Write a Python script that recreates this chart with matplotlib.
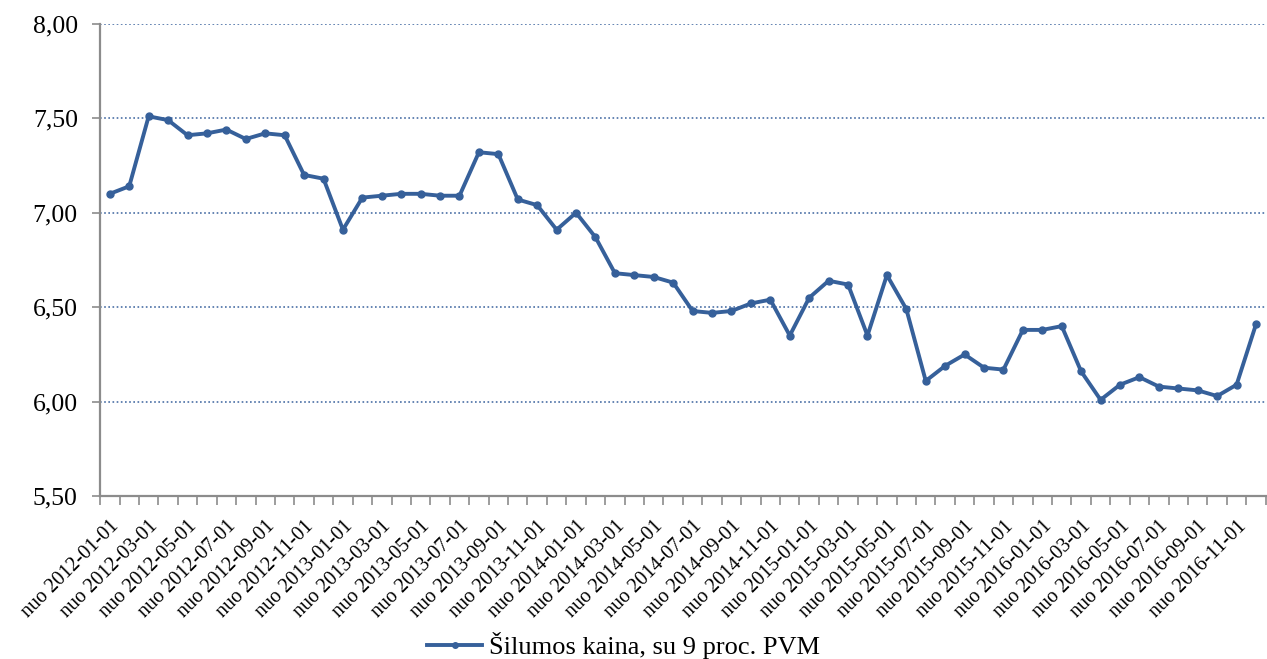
import matplotlib
matplotlib.use("Agg")
import matplotlib.pyplot as plt
import numpy as np

plt.rcParams["font.family"] = ["Liberation Serif", "DejaVu Serif"]

YEARS = [2012, 2013, 2014, 2015, 2016]
MONTHS = [f"{m:02d}" for m in range(1, 13)]
DATES = [f"{y}-{m}-01" for y in YEARS for m in MONTHS]

PRICES = [
    7.10, 7.14, 7.51, 7.49, 7.41, 7.42, 7.44, 7.39, 7.42, 7.41, 7.20, 7.18,
    6.91, 7.08, 7.09, 7.10, 7.10, 7.09, 7.09, 7.32, 7.31, 7.07, 7.04, 6.91,
    7.00, 6.87, 6.68, 6.67, 6.66, 6.63, 6.48, 6.47, 6.48, 6.52, 6.54, 6.35,
    6.55, 6.64, 6.62, 6.35, 6.67, 6.49, 6.11, 6.19, 6.25, 6.18, 6.17, 6.38,
    6.38, 6.40, 6.16, 6.01, 6.09, 6.13, 6.08, 6.07, 6.06, 6.03, 6.09, 6.41,
]
SERIES_NAME = "Šilumos kaina, su 9 proc. PVM"

LINE_COLOR = "#36609A"
GRID_COLOR = "#4A6FA5"
AXIS_COLOR = "#8C8C8C"


def main() -> None:
    fig = plt.figure(figsize=(12.67, 6.59), dpi=100, facecolor="white")
    ax = fig.add_axes((0.079, 0.247, 0.92, 0.717))

    x = np.arange(len(PRICES))
    ax.plot(
        x, PRICES, color=LINE_COLOR, linewidth=2.8, marker="o",
        markersize=5, label=SERIES_NAME, zorder=3,
    )

    ax.set_ylim(5.5, 8.0)
    ax.set_yticks(np.arange(5.5, 8.01, 0.5))
    ax.set_yticklabels([f"{v:.2f}".replace(".", ",") for v in np.arange(5.5, 8.01, 0.5)])
    ax.yaxis.grid(True, color=GRID_COLOR, linestyle=(0, (1, 1.5)), linewidth=1.2)
    ax.set_axisbelow(True)

    # labels on every second month, tick marks between categories
    ax.set_xlim(-0.5, len(PRICES) - 0.5)
    ax.set_xticks(x[::2])
    ax.set_xticklabels([f"nuo {d}" for d in DATES[::2]], rotation=45,
                       ha="right", va="top", rotation_mode="anchor")
    ax.set_xticks(np.arange(-0.5, len(PRICES)), minor=True)
    ax.tick_params(axis="x", which="major", length=0, labelsize=14.5, pad=15)
    ax.tick_params(axis="x", which="minor", length=6.5, color=AXIS_COLOR, width=1.2)
    ax.tick_params(axis="y", length=6, color=AXIS_COLOR, width=1.2, labelsize=18.5, pad=10)

    for side in ("top", "right"):
        ax.spines[side].set_visible(False)
    for side in ("left", "bottom"):
        ax.spines[side].set_color(AXIS_COLOR)
        ax.spines[side].set_linewidth(1.6)

    fig.legend(
        loc="lower center", bbox_to_anchor=(0.492, -0.036), frameon=False,
        fontsize=19, handlelength=2.1, handletextpad=0.25, markerscale=0.8,
    )

    fig.savefig("out.png", dpi=100, facecolor=fig.get_facecolor())
    plt.close(fig)


if __name__ == "__main__":
    main()
